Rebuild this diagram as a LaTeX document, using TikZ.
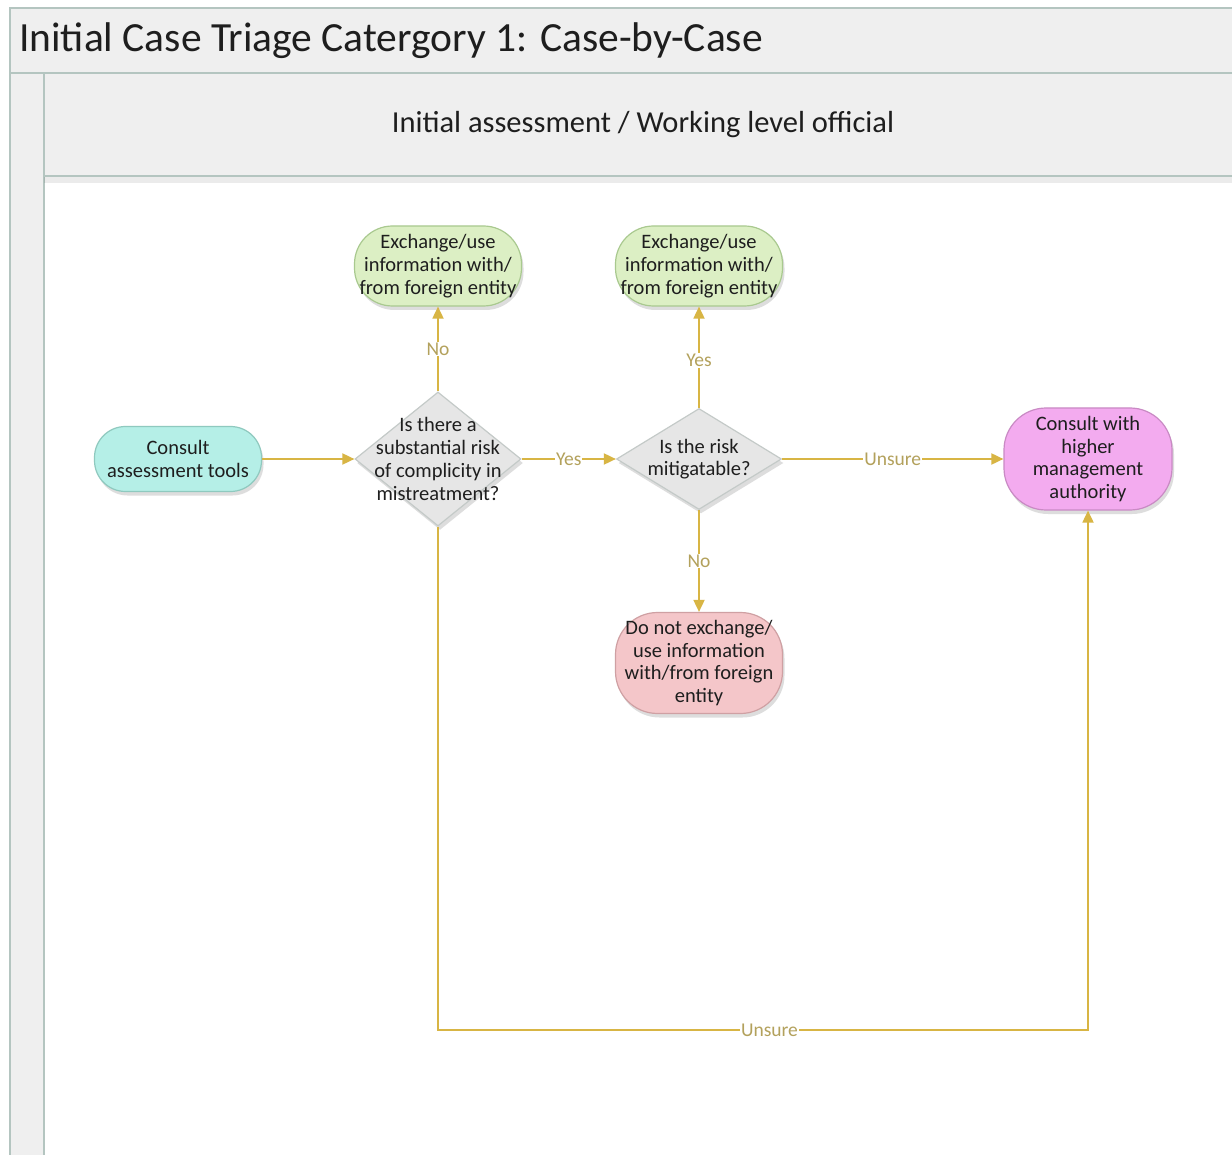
\documentclass[tikz,border=0pt]{standalone}
\usepackage{fontspec}
\setmainfont{Carlito}
\usetikzlibrary{shapes.geometric,arrows.meta,shadows}

\definecolor{framegray}{HTML}{EFEFEF}
\definecolor{frameline}{HTML}{B4C5C0}
\definecolor{flowgold}{HTML}{D8B544}
\definecolor{lblgold}{HTML}{B3A15C}
\definecolor{tealfill}{HTML}{B5EFE7}
\definecolor{tealline}{HTML}{8FC9BF}
\definecolor{greenfill}{HTML}{DCEFC4}
\definecolor{greenline}{HTML}{A9C98F}
\definecolor{dmdfill}{HTML}{E6E6E6}
\definecolor{dmdline}{HTML}{C4CAC8}
\definecolor{magfill}{HTML}{F3ABEF}
\definecolor{magline}{HTML}{C98AC4}
\definecolor{redfill}{HTML}{F4C6C9}
\definecolor{redline}{HTML}{CFA0A3}
\definecolor{inktext}{HTML}{1E1E1E}

\tikzset{
  softshadow/.style={drop shadow={shadow xshift=2pt, shadow yshift=-4pt, opacity=0.22, fill=black!60}},
  nodetext/.style={font=\fontsize{20.5}{22.7}\selectfont, text=inktext, align=center, inner sep=0pt},
  terminal/.style={nodetext, rectangle, rounded corners=34pt, line width=1.2pt,
    minimum width=167pt, softshadow},
  % the diamond itself carries no text, its wording sits in a centred label
  decision/.style={diamond, inner sep=0pt, line width=1.2pt, draw=dmdline, fill=dmdfill, softshadow},
  flow/.style={draw=flowgold, line width=1.8pt, -{Triangle[length=12pt,width=11pt]}},
  lbl/.style={font=\fontsize{19.5}{22}\selectfont, text=lblgold, fill=white, inner sep=1pt},
}

\begin{document}
\begin{tikzpicture}[x=1pt,y=-1pt]
\useasboundingbox (0,0) rectangle (1232,1155);

% pool and lane frame
\begin{scope}
  \clip (0,0) rectangle (1232,1155);
  \fill[white] (0,0) rectangle (1232,1155);
  \draw[frameline, line width=1.8pt, fill=framegray] (10,8) rectangle (1250,1175);
  \draw[frameline, line width=1.8pt, fill=white] (44,73) rectangle (1250,1175);
  \fill[black, opacity=0.08] (44,177) rectangle (1250,183);
  \draw[frameline, line width=1.8pt, fill=framegray] (44,73) rectangle (1250,176);
  \draw[frameline, line width=1.8pt] (10,73) -- (1250,73);
\end{scope}

\node[anchor=west, font=\fontsize{41.5}{44}\selectfont, text=inktext, inner sep=0pt] (pooltitle) at (19,41) {Initial Case Triage Catergory 1: Case-by-Case};
\node[font=\fontsize{30.5}{33}\selectfont, text=inktext, inner sep=0pt] (lanetitle) at (643,125) {Initial assessment / Working level official};

% shapes
\node[terminal, draw=tealline, fill=tealfill, minimum height=65pt, rounded corners=31pt] (consult) at (178,459) {Consult\\assessment tools};
\node[decision, minimum width=166pt, minimum height=134pt,
  label={[nodetext]center:Is there a\\substantial risk\\of complicity in\\mistreatment?}] (risk) at (438,459) {};
\node[terminal, draw=greenline, fill=greenfill, minimum height=80pt, rounded corners=38pt] (useA) at (438,266) {Exchange/use\\information with/\\from foreign entity};
\node[decision, minimum width=165pt, minimum height=101pt,
  label={[nodetext]center:Is the risk\\mitigatable?}] (mitig) at (699,459) {};
\node[terminal, draw=greenline, fill=greenfill, minimum height=80pt, rounded corners=38pt] (useB) at (699,266) {Exchange/use\\information with/\\from foreign entity};
\node[terminal, draw=magline, fill=magfill, minimum height=102pt, minimum width=168pt, rounded corners=42pt] (mgmt) at (1088,459) {Consult with\\higher\\management\\authority};
\node[terminal, draw=redline, fill=redfill, minimum height=101pt, rounded corners=42pt] (deny) at (699,663) {Do not exchange/\\use information\\with/from foreign\\entity};

% connectors
\coordinate (baseline) at (0,1030);
\draw[flow] (consult) -- (risk);
\draw[flow] (risk) -- node[lbl] {No} (useA);
\draw[flow] (risk) -- node[lbl] {Yes} (mitig);
\draw[flow] (mitig) -- node[lbl, pos=0.47] {Yes} (useB);
\draw[flow] (mitig) -- node[lbl] {Unsure} (mgmt);
\draw[flow] (mitig) -- node[lbl] {No} (deny);
\draw[flow] (risk.south) -- (risk.south |- baseline) -- node[lbl, pos=0.51] {Unsure} (mgmt.south |- baseline) -- (mgmt.south);
\end{tikzpicture}
\end{document}
